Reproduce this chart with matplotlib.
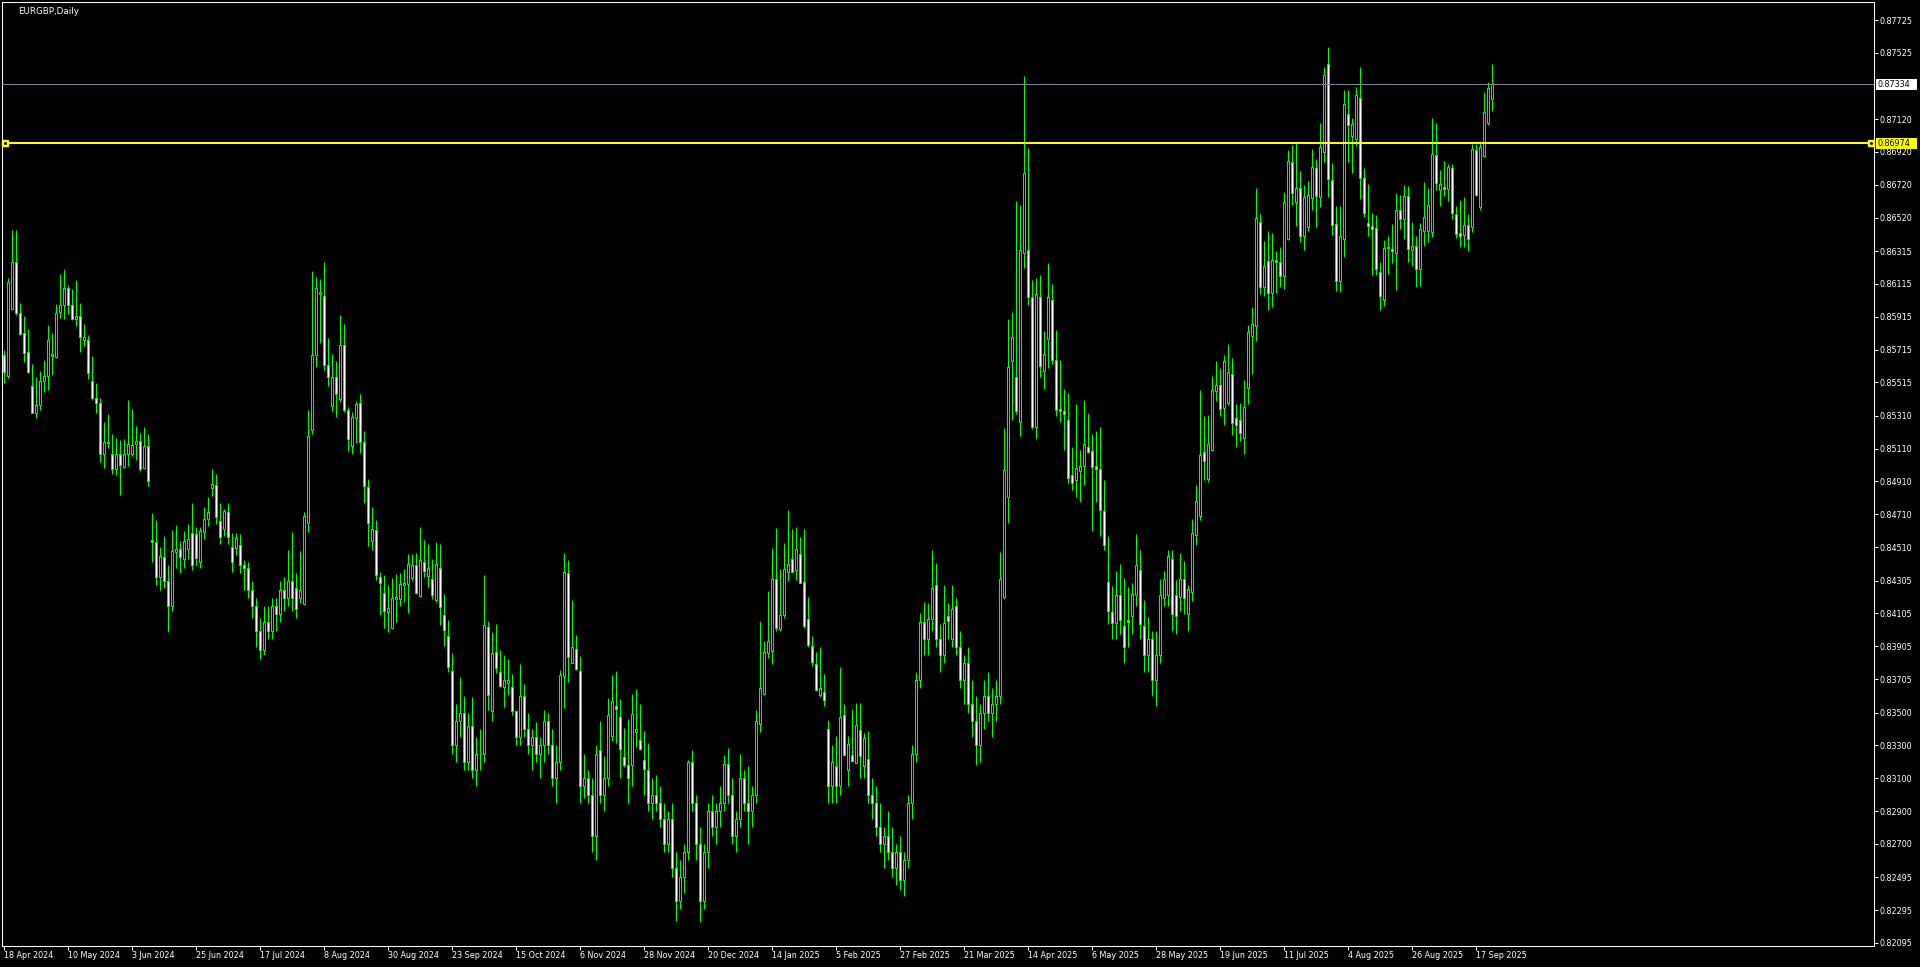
import matplotlib
matplotlib.use("Agg")
import matplotlib.pyplot as plt
from matplotlib.patches import Rectangle
from matplotlib.collections import PatchCollection

# ---------------- data ----------------
TITLE = "EURGBP,Daily"
PRICE_UNIT = 1e-5  # values below are in 1e-5 units (0.85682 -> 85682)

opens = [
    85682, 85556, 85960, 86251, 85940, 85814, 85698, 85495, 85330, 85375,
    85521, 85552, 85676, 85667, 85946, 85985, 86088, 85985, 85903, 85918,
    85771, 85771, 85521, 85417, 85387, 85080, 85145, 85076, 84988, 85076,
    84997, 85076, 85080, 85137, 85155, 84995, 85127, 84553, 84539, 84330,
    84448, 84300, 84150, 84482, 84498, 84440, 84498, 84594, 84588, 84420,
    84600, 84679, 84869, 84889, 84667, 84618, 84722, 84511, 84503, 84521,
    84400, 84380, 84250, 84150, 84000, 83880, 84050, 84000, 84150, 84100,
    84250, 84200, 84300, 84260, 84198, 84161, 84659, 85226, 85684, 86056,
    86039, 85619, 85373, 85545, 85415, 85741, 85344, 85129, 85295, 85387,
    85149, 84875, 84545, 84612, 84328, 84232, 84114, 84015, 84194, 84196,
    84279, 84283, 84324, 84399, 84214, 84417, 84336, 84313, 84189, 84381,
    84094, 83966, 83752, 83300, 83450, 83496, 83200, 83420, 83150, 83250,
    83250, 84021, 83513, 83868, 83746, 83659, 83679, 83655, 83510, 83350,
    83600, 83400, 83300, 83350, 83250, 83300, 83450, 83300, 83100, 83200,
    83726, 84350, 83805, 83887, 83752, 83050, 83100, 83000, 82750, 83272,
    83000, 83100, 83360, 83541, 83474, 83228, 83183, 83183, 83384, 83333,
    83211, 83150, 82950, 83000, 82950, 82850, 82700, 82850, 82550, 82350,
    82500, 82650, 83197, 82950, 82700, 82350, 82650, 82900, 82800, 82900,
    82950, 83187, 83000, 82750, 82850, 83100, 82950, 82900, 83000, 83429,
    83612, 83862, 83874, 84315, 84012, 84098, 84356, 84437, 84372, 84468,
    84297, 84071, 83907, 83797, 83606, 83626, 83400, 83050, 83175, 83050,
    83486, 83150, 83242, 83195, 83394, 83175, 83217, 83000, 82950, 82800,
    82700, 82750, 82650, 82550, 82650, 82480, 82600, 82950, 83250, 83700,
    84050, 83950, 84069, 84279, 83950, 83850, 84090, 83950, 84150, 83900,
    83700, 83800, 83550, 83450, 83300, 83500, 83600, 83500, 83550, 83600,
    84206, 84818, 85646, 85545, 85274, 86301, 86321, 86035, 85244, 86035,
    85587, 85782, 86017, 85651, 85353, 85340, 85285, 84949, 84920, 84975,
    85006, 85121, 85095, 85003, 84986, 84733, 84299, 84112, 84044, 84215,
    84031, 84067, 84090, 84218, 84371, 84031, 83850, 83950, 83700, 83850,
    84201, 84220, 84435, 84218, 84206, 84317, 84103, 84238, 84581, 84700,
    85087, 84923, 85104, 85460, 85496, 85359, 85391, 85564, 85296, 85283,
    85174, 85479, 85797, 85856, 86494, 86095, 86253, 86057, 86259, 86246,
    86161, 86390, 86856, 86612, 86698, 86405, 86460, 86637, 86825, 86645,
    86919, 87455, 86747, 86479, 86135, 86392, 87150, 87017, 86997, 87250,
    86760, 86487, 86466, 86455, 86189, 86019, 86339, 86327, 86306, 86563,
    86514, 86649, 86324, 86344, 86204, 86439, 86439, 86433, 86899, 86690,
    86707, 86696, 86821, 86544, 86424, 86416, 86472, 86460, 86932, 86582,
    86897, 87095, 87241,
]

highs = [
    85712, 86149, 86444, 86444, 85997, 85920, 85838, 85627, 85545, 85584,
    85649, 85865, 85814, 85991, 86176, 86206, 86107, 86082, 86139, 85997,
    85871, 85802, 85676, 85509, 85417, 85271, 85320, 85198, 85173, 85163,
    85167, 85407, 85352, 85247, 85204, 85243, 85198, 84716, 84675, 84513,
    84578, 84400, 84614, 84645, 84547, 84608, 84651, 84779, 84631, 84631,
    84753, 84816, 84986, 84956, 84777, 84740, 84779, 84596, 84594, 84590,
    84430, 84420, 84300, 84200, 84080, 84150, 84150, 84200, 84200, 84300,
    84330, 84493, 84602, 84350, 84486, 84726, 85346, 86194, 86155, 86143,
    86249, 85785, 85688, 85643, 85924, 85871, 85362, 85334, 85401, 85442,
    85216, 84923, 84755, 84675, 84356, 84340, 84279, 84322, 84346, 84354,
    84376, 84468, 84468, 84474, 84633, 84553, 84529, 84437, 84541, 84529,
    84222, 84065, 83862, 83550, 83716, 83602, 83496, 83594, 83350, 83400,
    84340, 84059, 83990, 84041, 83882, 83852, 83828, 83736, 83517, 83797,
    83675, 83500, 83400, 83440, 83350, 83517, 83500, 83400, 83300, 83760,
    84474, 84431, 84187, 83974, 83846, 83250, 83150, 83100, 83300, 83449,
    83236, 83589, 83730, 83754, 83583, 83407, 83461, 83614, 83644, 83553,
    83388, 83315, 83100, 83120, 83050, 82950, 82900, 82950, 82650, 82600,
    82700, 83211, 83272, 83000, 82800, 82700, 82950, 83000, 82950, 83050,
    83242, 83285, 83100, 82900, 83248, 83150, 83175, 83050, 83516, 84059,
    83937, 84242, 84504, 84626, 84376, 84533, 84736, 84620, 84632, 84571,
    84620, 84206, 83968, 83870, 83901, 83736, 83455, 83303, 83358, 83779,
    83553, 83358, 83522, 83559, 83559, 83376, 83388, 83100, 83050, 82950,
    82800, 82900, 82800, 82700, 82750, 82650, 83000, 83300, 83750, 84108,
    84175, 84169, 84491, 84412, 84040, 84279, 84169, 84279, 84200, 84000,
    83850, 83900, 83700, 83600, 83550, 83700, 83750, 83650, 83700, 84480,
    85235, 85901, 85945, 86622, 86596, 87384, 86944, 86138, 86152, 86170,
    85827, 86242, 86113, 85834, 85651, 85475, 85451, 85121, 85382, 85102,
    85407, 85329, 85200, 85218, 85242, 84920, 84577, 84272, 84366, 84406,
    84324, 84268, 84290, 84590, 84491, 84186, 84082, 84000, 84000, 84317,
    84367, 84495, 84495, 84307, 84473, 84423, 84281, 84680, 84888, 85466,
    85309, 85315, 85555, 85644, 85603, 85682, 85747, 85664, 85383, 85391,
    85529, 85865, 85973, 86701, 86540, 86377, 86435, 86428, 86314, 86340,
    86673, 86932, 86962, 86982, 86804, 86719, 86742, 86939, 86877, 87099,
    87438, 87559, 86854, 86592, 86590, 87298, 87298, 87130, 87316, 87438,
    86823, 86723, 86546, 86536, 86248, 86383, 86407, 86481, 86668, 86658,
    86719, 86712, 86492, 86407, 86487, 86734, 86701, 87128, 87097, 86812,
    86865, 86847, 86847, 86590, 86627, 86645, 86542, 86971, 86966, 86989,
    87285, 87345, 87457,
]

lows = [
    85509, 85539, 85956, 85926, 85804, 85641, 85574, 85326, 85300, 85346,
    85458, 85468, 85560, 85665, 85909, 85901, 85932, 85895, 85861, 85700,
    85739, 85535, 85407, 85330, 85031, 84995, 85117, 84958, 84952, 84828,
    84995, 85005, 85068, 85043, 84976, 84984, 84883, 84420, 84280, 84250,
    84260, 83990, 84120, 84380, 84350, 84380, 84440, 84370, 84400, 84380,
    84560, 84640, 84820, 84650, 84530, 84580, 84530, 84360, 84460, 84350,
    84250, 84200, 84080, 83900, 83830, 83850, 83950, 83950, 84000, 84050,
    84120, 84150, 84120, 84080, 84167, 84157, 84604, 85198, 85610, 85753,
    85590, 85493, 85342, 85306, 85397, 85336, 85098, 85080, 85145, 85086,
    84781, 84519, 84492, 84309, 84096, 84019, 83994, 84013, 84055, 84153,
    84177, 84110, 84310, 84225, 84205, 84330, 84265, 84196, 84177, 84035,
    83909, 83750, 83250, 83200, 83350, 83150, 83150, 83100, 83050, 83150,
    83200, 83517, 83450, 83740, 83655, 83537, 83608, 83486, 83300, 83300,
    83350, 83250, 83150, 83200, 83100, 83200, 83250, 83050, 82950, 83150,
    83527, 83685, 83801, 83760, 82950, 82980, 82950, 82650, 82600, 82950,
    82900, 83050, 83329, 83313, 83100, 83171, 82950, 83050, 83293, 83272,
    83000, 82900, 82850, 82900, 82800, 82650, 82650, 82500, 82230, 82300,
    82400, 82600, 82900, 82600, 82220, 82300, 82550, 82750, 82700, 82800,
    82900, 82950, 82700, 82650, 82800, 82900, 82700, 82800, 82950, 83384,
    83606, 83836, 83799, 84000, 84000, 84080, 84305, 84358, 84309, 84290,
    84018, 83900, 83787, 83630, 83594, 83539, 82950, 82950, 82950, 83000,
    83240, 83050, 83201, 83191, 83100, 83100, 82950, 82850, 82750, 82650,
    82550, 82600, 82500, 82450, 82420, 82380, 82550, 82850, 83200, 83650,
    83850, 83850, 84000, 83900, 83750, 83800, 83950, 83900, 83850, 83650,
    83550, 83500, 83350, 83180, 83200, 83400, 83450, 83350, 83450, 83550,
    84195, 84658, 85285, 85319, 85188, 86211, 85985, 85229, 85172, 85550,
    85477, 85602, 85628, 85308, 85274, 85104, 84901, 84857, 84818, 84785,
    84890, 85082, 84608, 84785, 84577, 84495, 84040, 83950, 83950, 83980,
    83800, 83900, 83980, 84150, 83950, 83750, 83750, 83600, 83540, 83800,
    84150, 84150, 84000, 83980, 84120, 84100, 84000, 84180, 84520, 84675,
    84919, 84906, 85098, 85399, 85311, 85252, 85376, 85196, 85122, 85159,
    85078, 85383, 85566, 85768, 86052, 86044, 85958, 85975, 86057, 86095,
    86084, 86386, 86597, 86470, 86372, 86324, 86439, 86563, 86460, 86586,
    86858, 86645, 86416, 86074, 86063, 86281, 86858, 86789, 86958, 86635,
    86525, 86405, 86171, 86171, 85958, 85983, 86178, 86245, 86080, 86453,
    86390, 86248, 86226, 86095, 86104, 86346, 86372, 86401, 86690, 86592,
    86653, 86622, 86514, 86396, 86342, 86342, 86318, 86431, 86652, 86567,
    86888, 87085, 87167,
]

closes = [
    85580, 86129, 86251, 85940, 85808, 85696, 85580, 85330, 85375, 85521,
    85554, 85771, 85686, 85936, 85985, 86088, 85985, 85903, 85920, 85793,
    85789, 85570, 85421, 85387, 85080, 85149, 85149, 84988, 85076, 85009,
    85076, 85137, 85131, 85155, 84988, 85127, 84911, 84543, 84330, 84456,
    84300, 84150, 84486, 84498, 84452, 84547, 84557, 84400, 84442, 84606,
    84679, 84722, 84895, 84696, 84574, 84730, 84574, 84420, 84565, 84400,
    84380, 84250, 84150, 84000, 83880, 84050, 84000, 84150, 84100, 84250,
    84200, 84300, 84200, 84130, 84248, 84700, 85186, 85680, 86088, 86066,
    85623, 85550, 85545, 85442, 85741, 85348, 85171, 85302, 85381, 85149,
    84881, 84659, 84618, 84338, 84289, 84118, 84139, 84198, 84206, 84283,
    84289, 84405, 84399, 84232, 84429, 84366, 84383, 84216, 84405, 84147,
    84006, 83777, 83300, 83450, 83496, 83200, 83420, 83150, 83250, 83250,
    84033, 83610, 83862, 83775, 83663, 83697, 83697, 83510, 83350, 83600,
    83400, 83300, 83350, 83250, 83300, 83450, 83300, 83100, 83200, 83730,
    84356, 83842, 83899, 83764, 83050, 83100, 83000, 82750, 83250, 83000,
    83100, 83486, 83571, 83524, 83280, 83183, 83100, 83492, 83400, 83280,
    83158, 82950, 83000, 82950, 82850, 82700, 82850, 82550, 82350, 82500,
    82650, 83197, 82950, 82700, 82350, 82650, 82900, 82800, 82900, 82950,
    83187, 83000, 82750, 82850, 83100, 82950, 82900, 83000, 83449, 83651,
    83870, 83937, 84315, 84014, 84094, 84376, 84407, 84360, 84498, 84293,
    84031, 83913, 83807, 83636, 83651, 83575, 83050, 83200, 83050, 83474,
    83244, 83309, 83207, 83425, 83238, 83346, 83000, 82950, 82800, 82700,
    82750, 82650, 82550, 82650, 82480, 82600, 82950, 83250, 83700, 84050,
    83950, 84069, 84259, 83950, 83850, 84047, 84056, 84134, 83900, 83700,
    83800, 83550, 83450, 83300, 83500, 83600, 83500, 83550, 83600, 84313,
    84981, 85608, 85790, 85342, 86321, 86791, 86037, 85244, 86052, 85617,
    85687, 86035, 85653, 85349, 85342, 85324, 84931, 84901, 84992, 85003,
    85137, 85089, 84999, 84986, 84737, 84525, 84117, 84044, 84220, 84067,
    83900, 84053, 84225, 84399, 84039, 83850, 83950, 83700, 83850, 84220,
    84318, 84455, 84100, 84090, 84317, 84197, 84252, 84595, 84789, 85070,
    85036, 85137, 85468, 85496, 85350, 85642, 85577, 85266, 85257, 85203,
    85365, 85819, 85869, 86516, 86095, 86222, 86057, 86259, 86248, 86161,
    86612, 86862, 86668, 86698, 86407, 86645, 86656, 86831, 86649, 86949,
    87388, 86753, 86477, 86135, 86405, 87211, 87086, 87088, 87265, 86760,
    86546, 86470, 86453, 86209, 86043, 86333, 86333, 86314, 86563, 86514,
    86649, 86331, 86346, 86204, 86451, 86521, 86597, 86907, 86730, 86723,
    86692, 86829, 86546, 86422, 86407, 86475, 86392, 86939, 86660, 86949,
    87162, 87308, 87334,
]

date_labels = [
    "18 Apr 2024", "10 May 2024", "3 Jun 2024", "25 Jun 2024", "17 Jul 2024",
    "8 Aug 2024", "30 Aug 2024", "23 Sep 2024", "15 Oct 2024", "6 Nov 2024",
    "28 Nov 2024", "20 Dec 2024", "14 Jan 2025", "5 Feb 2025", "27 Feb 2025",
    "21 Mar 2025", "14 Apr 2025", "6 May 2025", "28 May 2025", "19 Jun 2025",
    "11 Jul 2025", "4 Aug 2025", "26 Aug 2025", "17 Sep 2025",
]
date_label_bars = [0, 16, 32, 48, 64, 80, 96, 112, 128, 144, 160, 176,
                   192, 208, 224, 240, 256, 272, 288, 304, 320, 336, 352, 368]

price_tick_values = [0.87725, 0.87525, 0.87120, 0.86920, 0.86720, 0.86520,
                     0.86315, 0.86115, 0.85915, 0.85715, 0.85515, 0.85310,
                     0.85110, 0.84910, 0.84710, 0.84510, 0.84305, 0.84105,
                     0.83905, 0.83705, 0.83500, 0.83300, 0.83100, 0.82900,
                     0.82700, 0.82495, 0.82295, 0.82095]
price_tick_labels = ["%.5f" % v for v in price_tick_values]

bid_price = 0.87334
bid_label = "0.87334"
hline_price = 0.86974
hline_label = "0.86974"

# ---------------- layout ----------------
W, H, DPI = 1920, 967, 100
L_PX, R_PX, T_PX, B_PX = 2, 1874, 2, 946
BAR_PX = 4.0
FIRST_CENTER_PX = 3.5
PX_PER_PRICE = 16394.0
REF_PRICE, REF_PX = 0.87725, 20.0
FONT = "DejaVu Sans"
FS = 5.8
LIME = "#00ff00"

fig = plt.figure(figsize=(W / DPI, H / DPI), dpi=DPI, facecolor="black")
ax = fig.add_axes([L_PX / W, 1 - B_PX / H, (R_PX - L_PX) / W, (B_PX - T_PX) / H])
ax.set_facecolor("black")

x_lo = -(FIRST_CENTER_PX - L_PX) / BAR_PX
x_hi = x_lo + (R_PX - L_PX) / BAR_PX
y_top = REF_PRICE + (REF_PX - T_PX) / PX_PER_PRICE
y_bot = REF_PRICE - (B_PX - REF_PX) / PX_PER_PRICE
ax.set_xlim(x_lo, x_hi)
ax.set_ylim(y_bot, y_top)

px = 0.72  # one pixel in points

# ---------------- candles ----------------
n = len(closes)
xs = list(range(n))
o = [v * PRICE_UNIT for v in opens]
h = [v * PRICE_UNIT for v in highs]
l = [v * PRICE_UNIT for v in lows]
c = [v * PRICE_UNIT for v in closes]

ax.vlines(xs, l, h, colors=LIME, linewidth=px, zorder=2)

body_w = 2.0 / BAR_PX
rects, faces = [], []
for i in range(n):
    bot = min(o[i], c[i])
    top = max(o[i], c[i])
    rects.append(Rectangle((i - body_w / 2, bot), body_w, top - bot))
    faces.append("white" if c[i] < o[i] else "black")
pc = PatchCollection(rects, facecolors=faces, edgecolors=LIME,
                     linewidths=px, zorder=3)
ax.add_collection(pc)

# ---------------- lines ----------------
ax.axhline(bid_price, color="#778899", linewidth=px, zorder=4)
ax.axhline(hline_price, color="#ffff00", linewidth=2 * px, zorder=5)
xa = x_lo + (4.7 - L_PX) / BAR_PX
xb = x_lo + (1870.5 - L_PX) / BAR_PX
ax.plot([xa, xb], [hline_price, hline_price], linestyle="none", marker="s",
        markersize=4.3, color="#ffff00", zorder=6, clip_on=False)
ax.plot([xa, xb], [hline_price, hline_price], linestyle="none", marker="s",
        markersize=1.0, color="black", zorder=7, clip_on=False)

# ---------------- axes styling ----------------
for s in ax.spines.values():
    s.set_color("white")
    s.set_linewidth(px)

ax.yaxis.tick_right()
ax.set_yticks(price_tick_values)
ax.set_yticklabels(price_tick_labels)
ax.tick_params(axis="y", direction="out", length=4 * px, width=px,
               colors="white", labelsize=FS, pad=2 * px)
ax.set_xticks(date_label_bars)
ax.set_xticklabels(date_labels)
ax.tick_params(axis="x", direction="out", length=4 * px, width=px,
               colors="white", labelsize=FS, pad=1.5 * px)
for t in ax.get_xticklabels():
    t.set_horizontalalignment("left")
for t in ax.get_xticklabels() + ax.get_yticklabels():
    t.set_fontfamily(FONT)

fig.text(18 / W, 1 - 11 / H, TITLE, color="white", fontsize=6.3,
         fontfamily=FONT, ha="left", va="center")

# price labels on the right scale
def price_box(price, text, bg):
    y_px = T_PX + (y_top - price) * PX_PER_PRICE
    fig.patches.append(Rectangle((1876 / W, 1 - (y_px + 5.5) / H), 41 / W, 11 / H,
                                 transform=fig.transFigure, facecolor=bg,
                                 edgecolor="none", zorder=10))
    fig.text(1878 / W, 1 - y_px / H, text, color="black", fontsize=FS,
             fontfamily=FONT, ha="left", va="center", zorder=11)

price_box(bid_price, bid_label, "white")
price_box(hline_price, hline_label, "#ffff00")

fig.savefig("out.png", dpi=DPI, facecolor="black")
